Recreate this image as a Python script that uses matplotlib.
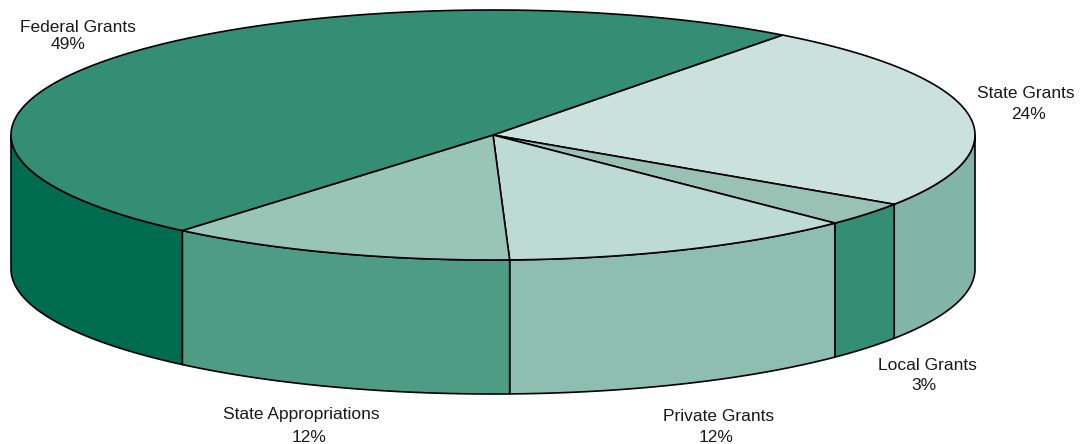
import numpy as np
import matplotlib
matplotlib.use('Agg')
import matplotlib.pyplot as plt
from matplotlib.patches import Polygon

# Slices, clockwise from the upper right
categories = ['State Grants', 'Local Grants', 'Private Grants', 'State Appropriations', 'Federal Grants']
values = [24.1, 3.1, 12.0, 11.7, 49.1]
top_colors = ['#cbe1db', '#99c2b5', '#bedbd3', '#99c5b6', '#348e74']
side_colors = ['#82b5a5', '#348e74', '#8dbeb0', '#4f9c85', '#006c4f']

# Label anchors in pixels (baselines)
name_x = [1026, 927, 719, 301, 78]
name_y = [98, 370, 421, 419, 32]
pct_x = [1029, 924, 716, 309, 68]
pct_y = [119, 390, 442, 442, 49]

cx, cy = 493, 135
rx, ry = 482, 125
depth = 134
start = 53.1

plt.rcParams['font.family'] = ['Liberation Sans', 'DejaVu Sans']

fig = plt.figure(figsize=(10.8, 4.44), dpi=100)
ax = fig.add_axes([0, 0, 1, 1])
ax.set_xlim(0, 1080)
ax.set_ylim(444, 0)
ax.axis('off')


def rim(a0, a1):
    t = np.radians(np.linspace(a0, a1, 200))
    return cx + rx * np.cos(t), cy - ry * np.sin(t)


sweeps = np.array(values) * 3.6
ends = start - np.cumsum(sweeps)
starts = ends + sweeps

# side walls first, only the front part of the rim shows
for a0, a1, c in zip(starts, ends, side_colors):
    lo, hi = max(a1, -180), min(a0, 0)
    if hi <= lo:
        continue
    x, y = rim(hi, lo)
    pts = np.column_stack([np.r_[x, x[::-1]], np.r_[y, y[::-1] + depth]])
    ax.add_patch(Polygon(pts, closed=True, fc=c, ec='black', lw=1.2, joinstyle='round'))

# top of the pie
for a0, a1, c in zip(starts, ends, top_colors):
    x, y = rim(a0, a1)
    pts = np.column_stack([np.r_[cx, x], np.r_[cy, y]])
    ax.add_patch(Polygon(pts, closed=True, fc=c, ec='black', lw=1.2, joinstyle='round'))

for i, name in enumerate(categories):
    ax.text(name_x[i], name_y[i], name, ha='center', va='baseline', fontsize=12.5, color='#1a1a1a')
    ax.text(pct_x[i], pct_y[i], f'{values[i]:.0f}%', ha='center', va='baseline', fontsize=12.5, color='#1a1a1a')

fig.savefig('out.png', dpi=100, facecolor='white')
